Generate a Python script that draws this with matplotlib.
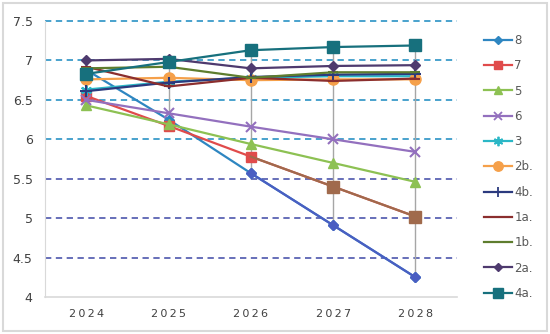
import matplotlib.pyplot as plt
from matplotlib.lines import Line2D
import numpy as np

years = ['2024', '2025', '2026', '2027', '2028']

s8 = [6.88, 6.25, 5.57, 4.91, 4.25]
s7 = [6.55, 6.17, 5.78, 5.40, 5.02]
s5 = [6.43, 6.19, 5.94, 5.70, 5.46]
s6 = [6.50, 6.33, 6.16, 6.00, 5.84]
s3 = [6.63, 6.73, 6.78, 6.80, 6.80]
s2b = [6.76, 6.78, 6.75, 6.76, 6.76]
s4b = [6.61, 6.72, 6.79, 6.82, 6.83]
s1a = [6.92, 6.67, 6.78, 6.74, 6.77]
s1b = [6.90, 6.92, 6.78, 6.85, 6.85]
s2a = [7.00, 7.02, 6.90, 6.93, 6.94]
s4a = [6.83, 6.98, 7.13, 7.17, 7.19]

series = [
    ('8', s8, '#2E86C1', 'D', 5),
    ('7', s7, '#E04B4B', 's', 7),
    ('5', s5, '#8DC153', '^', 7),
    ('6', s6, '#9370BE', 'x', 7),
    ('3', s3, '#2BB7C6', (6, 2, 0), 8),
    ('2b.', s2b, '#F5A04A', 'o', 8),
    ('4b.', s4b, '#2B3A7E', '+', 9),
    ('1a.', s1a, '#8B2E2E', '_', 7),
    ('1b.', s1b, '#5E7D2E', '_', 7),
    ('2a.', s2a, '#4E3A6E', 'D', 5),
    ('4a.', s4a, '#17707D', 's', 8),
]

fig = plt.figure(figsize=(5.5, 3.34), dpi=100)
ax = fig.add_axes([0.082, 0.111, 0.748, 0.826])

x = np.arange(len(years))

# grid lines (upper ones cyan, lower ones indigo as in the picture)
for v in [7.5, 7, 6.5, 6, 5.5, 5, 4.5]:
    c = '#3A9BC9' if v >= 6 else '#5B63B3'
    ax.axhline(v, color=c, ls=(0, (3.5, 2.5)), lw=1.3, zorder=1, clip_on=False)

# high-low lines
allv = np.array([s[1] for s in series])
ax.vlines(x[1:], allv.min(axis=0)[1:], allv.max(axis=0)[1:], color='#A6A6A6', lw=1, zorder=2)

thin = ('x', '+', '_', (6, 2, 0))
handles = []
for name, vals, col, mk, ms in series:
    ax.plot(x, vals, color=col, lw=1.6, marker=mk, ms=ms, mew=1.5 if mk in thin else 1,
            mec=col, mfc=col, zorder=3)
    handles.append(Line2D([], [], color=col, lw=1.6, marker=mk, ms=ms * 0.85, mec=col, mfc=col,
                          mew=1.3 if mk in thin else 1))

# colour shift on the lower part of the falling series
ax.plot(x[2:], s8[2:], color='#4A5EC2', lw=1.6, marker='D', ms=5, zorder=3)
ax.plot(x[2:], s7[2:], color='#A06A4C', lw=1.6, marker='s', ms=8, markevery=[1, 2], zorder=3)

ax.set_xlim(-0.5, 4.5)
ax.set_ylim(4, 7.5)
ax.set_yticks([4, 4.5, 5, 5.5, 6, 6.5, 7, 7.5])
ax.set_yticklabels(['4', '4.5', '5', '5.5', '6', '6.5', '7', '7.5'])
ax.set_xticks(x)
ax.set_xticklabels(['\u2009'.join(y) for y in years], fontsize=8)
ax.tick_params(axis='y', length=0, labelsize=9, labelcolor='#404040', pad=9)
ax.tick_params(axis='x', length=0, labelcolor='#404040', pad=9)
for s in ['top', 'right']:
    ax.spines[s].set_visible(False)
ax.spines['left'].set_color('#D9D9D9')
ax.spines['bottom'].set_color('#D9D9D9')
ax.spines['bottom'].set_linewidth(1.2)

fig.legend(handles, [s[0] for s in series], loc='upper left', bbox_to_anchor=(0.86, 0.93),
           frameon=False, fontsize=8.5, labelcolor='#595959', handlelength=2.4,
           handletextpad=0.2, labelspacing=1.04)

fig.patches.append(plt.Rectangle((0.006, 0.008), 0.988, 0.984, transform=fig.transFigure,
                                 fill=False, ec='#D9D9D9', lw=1.5))

fig.savefig('out.png', dpi=100)
